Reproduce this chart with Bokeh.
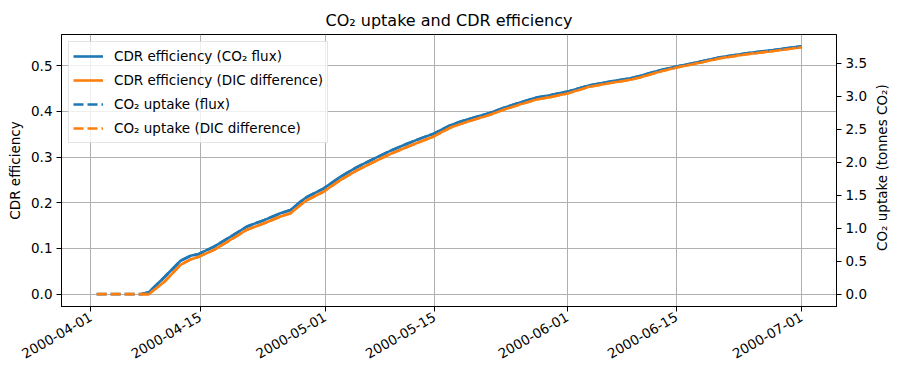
import pandas as pd
from math import pi
from bokeh.plotting import figure
from bokeh.layouts import row
from bokeh.models import (Range1d, LinearAxis, FixedTicker, DatetimeTickFormatter,
                          Legend, LegendItem, ColumnDataSource, NumeralTickFormatter)
from bokeh.core.properties import value
from bokeh.embed import file_html
from bokeh.resources import INLINE

# ---- data ----
eff_dates = ["2000-04-07 10:00", "2000-04-08 10:00", "2000-04-10 10:00", "2000-04-12 12:00",
             "2000-04-13 19:00", "2000-04-14 20:00", "2000-04-16 19:00", "2000-04-18 22:00",
             "2000-04-21 00:00", "2000-04-23 05:00", "2000-04-25 07:00", "2000-04-26 14:00",
             "2000-04-27 22:00", "2000-04-28 17:00", "2000-04-30 19:00", "2000-05-03 00:00",
             "2000-05-05 02:00", "2000-05-07 05:00", "2000-05-09 10:00", "2000-05-11 12:00",
             "2000-05-13 14:00", "2000-05-14 22:00", "2000-05-17 00:00", "2000-05-18 07:00",
             "2000-05-19 05:00", "2000-05-22 05:00", "2000-05-23 22:00", "2000-05-25 14:00",
             "2000-05-28 02:00", "2000-05-29 19:00", "2000-06-01 00:00", "2000-06-03 22:00",
             "2000-06-06 12:00", "2000-06-09 02:00", "2000-06-10 07:00", "2000-06-12 22:00",
             "2000-06-15 00:00", "2000-06-17 02:00", "2000-06-20 14:00", "2000-06-24 00:00",
             "2000-06-27 10:00", "2000-07-01 00:00"]
eff_flux = [0.000, 0.004, 0.037, 0.073, 0.084, 0.088, 0.104, 0.126, 0.148, 0.162, 0.177,
            0.184, 0.203, 0.213, 0.231, 0.257, 0.278, 0.296, 0.314, 0.329, 0.343, 0.351,
            0.369, 0.377, 0.382, 0.397, 0.408, 0.417, 0.430, 0.435, 0.443, 0.457, 0.465,
            0.472, 0.477, 0.490, 0.498, 0.505, 0.518, 0.527, 0.534, 0.542]
eff_dic = [0.000, 0.000, 0.027, 0.064, 0.076, 0.082, 0.097, 0.119, 0.141, 0.155, 0.170,
           0.177, 0.196, 0.206, 0.224, 0.250, 0.271, 0.289, 0.307, 0.322, 0.336, 0.345,
           0.364, 0.372, 0.377, 0.393, 0.404, 0.413, 0.426, 0.431, 0.439, 0.454, 0.462,
           0.469, 0.474, 0.487, 0.496, 0.503, 0.516, 0.525, 0.532, 0.540]

uptake_dates = ["2000-04-01 18:00"] + eff_dates
uptake_flux = [0.000, 0.000, 0.028, 0.256, 0.506, 0.582, 0.610, 0.721, 0.873, 1.026, 1.123,
               1.227, 1.275, 1.407, 1.476, 1.601, 1.781, 1.927, 2.051, 2.176, 2.280, 2.377,
               2.432, 2.557, 2.613, 2.647, 2.751, 2.827, 2.890, 2.980, 3.015, 3.070, 3.167,
               3.222, 3.271, 3.306, 3.396, 3.451, 3.500, 3.590, 3.652, 3.701, 3.756]
uptake_dic = [0.000, 0.000, 0.000, 0.187, 0.444, 0.527, 0.568, 0.672, 0.825, 0.977, 1.074,
              1.178, 1.227, 1.358, 1.428, 1.552, 1.733, 1.878, 2.003, 2.128, 2.231, 2.328,
              2.391, 2.523, 2.578, 2.613, 2.723, 2.800, 2.862, 2.952, 2.987, 3.042, 3.146,
              3.202, 3.250, 3.285, 3.375, 3.437, 3.486, 3.576, 3.638, 3.687, 3.742]

x_tick_dates = ["2000-04-01", "2000-04-15", "2000-05-01", "2000-05-15",
                "2000-06-01", "2000-06-15", "2000-07-01"]
left_ticks = [0.0, 0.1, 0.2, 0.3, 0.4, 0.5]
right_ticks = [0.0, 0.5, 1.0, 1.5, 2.0, 2.5, 3.0, 3.5]
right_label = "CO\u2082 uptake (tonnes CO\u2082)"

BLUE = "#1f77b4"
ORANGE = "#ff7f0e"
FONT = "DejaVu Sans"

src_eff = ColumnDataSource(dict(t=pd.to_datetime(eff_dates), flux=eff_flux, dic=eff_dic))
src_up = ColumnDataSource(dict(t=pd.to_datetime(uptake_dates), flux=uptake_flux, dic=uptake_dic))

x0 = pd.Timestamp("2000-03-28 06:00")
x1 = pd.Timestamp("2000-07-05 12:00")

p = figure(width=872, height=378, x_axis_type="datetime", output_backend="svg",
           toolbar_location=None, x_range=Range1d(x0, x1), y_range=Range1d(-0.027, 0.568),
           min_border_left=61, min_border_right=36, min_border_top=34, min_border_bottom=72,
           background_fill_color="white", border_fill_color="white")
p.extra_y_ranges = {"up": Range1d(-0.187, 3.937)}

p.title.text = "CO\u2082 uptake and CDR efficiency"
p.title.align = "center"
p.title.text_font = FONT
p.title.text_font_size = "16px"
p.title.text_font_style = "normal"
p.title.text_color = "black"
p.title.offset = 14

p.outline_line_color = "black"
p.outline_line_width = 1
p.outline_line_alpha = 1

r1 = p.line("t", "flux", source=src_eff, color=BLUE, line_width=2.6)
r2 = p.line("t", "dic", source=src_eff, color=ORANGE, line_width=2.6)
r3 = p.line("t", "flux", source=src_up, color=BLUE, line_width=2.6, line_dash="10 4",
            y_range_name="up")
r4 = p.line("t", "dic", source=src_up, color=ORANGE, line_width=2.6, line_dash="10 4",
            y_range_name="up")

xt = [pd.Timestamp(d).value / 1e6 for d in x_tick_dates]
p.xaxis.ticker = FixedTicker(ticks=xt)
fmt = "%Y-%m-%d"
p.xaxis.formatter = DatetimeTickFormatter(days=fmt, months=fmt, years=fmt, hours=fmt,
                                          hourmin=fmt, minutes=fmt, context=None)
p.xaxis.major_label_orientation = pi / 6

p.yaxis.ticker = FixedTicker(ticks=left_ticks)
p.yaxis.formatter = NumeralTickFormatter(format="0.0")
p.yaxis.axis_label = "CDR efficiency"

ax2 = LinearAxis(y_range_name="up", ticker=FixedTicker(ticks=right_ticks),
                 formatter=NumeralTickFormatter(format="0.0"))
p.add_layout(ax2, "right")

for ax in [p.xaxis[0], p.yaxis[0], ax2]:
    ax.axis_line_color = "black"
    ax.axis_line_width = 1
    ax.major_tick_line_color = "black"
    ax.major_tick_out = 5
    ax.major_tick_in = 0
    ax.minor_tick_out = 0
    ax.minor_tick_in = 0
    ax.major_label_text_font = FONT
    ax.major_label_text_font_size = "13.5px"
    ax.major_label_text_color = "black"
    ax.major_label_standoff = 4
    ax.axis_label_text_font = FONT
    ax.axis_label_text_font_size = "13.5px"
    ax.axis_label_text_font_style = "normal"
    ax.axis_label_text_color = "black"

p.xgrid.ticker = FixedTicker(ticks=xt)
p.ygrid.ticker = FixedTicker(ticks=left_ticks)
for g in [p.xgrid[0], p.ygrid[0]]:
    g.grid_line_color = "#b0b0b0"
    g.grid_line_width = 1
    g.grid_line_alpha = 1

legend = Legend(items=[
    LegendItem(label="CDR efficiency (CO\u2082 flux)", renderers=[r1]),
    LegendItem(label="CDR efficiency (DIC difference)", renderers=[r2]),
    LegendItem(label="CO\u2082 uptake (flux)", renderers=[r3]),
    LegendItem(label="CO\u2082 uptake (DIC difference)", renderers=[r4]),
], location="top_left")
legend.margin = 7
legend.padding = 4
legend.spacing = 4
legend.glyph_width = 30
legend.glyph_height = 20
legend.label_height = 20
legend.label_standoff = 11
legend.label_text_font = FONT
legend.label_text_font_size = "13.5px"
legend.label_text_color = "black"
legend.border_line_color = "#cccccc"
legend.border_line_width = 1
legend.background_fill_color = "white"
legend.background_fill_alpha = 0.8
p.add_layout(legend)

# narrow strip on the right carrying the right-hand axis title (reads bottom-to-top)
p2 = figure(width=29, height=378, output_backend="svg", toolbar_location=None,
            x_range=Range1d(0, 29), y_range=Range1d(0, 378),
            x_axis_location=None, y_axis_location=None,
            min_border_left=0, min_border_right=0, min_border_top=0, min_border_bottom=0,
            background_fill_color="white", border_fill_color="white")
p2.outline_line_color = None
p2.xgrid.visible = False
p2.ygrid.visible = False
p2.text(x=[9], y=[193], text=[right_label], angle=pi / 2, text_align="center",
        text_baseline="middle", text_font=value(FONT), text_font_size="13.5px",
        text_color="black")

layout = row(p, p2, spacing=0)
open("out.html", "w").write(file_html(layout, INLINE))
